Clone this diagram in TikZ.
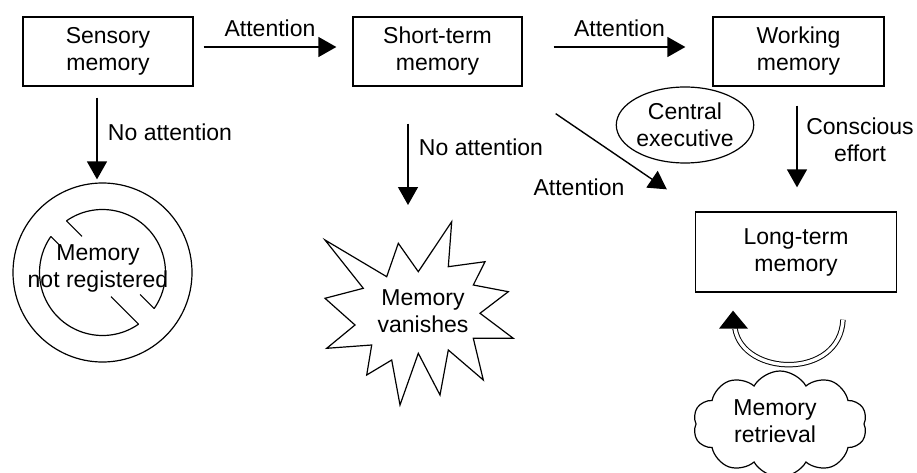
\documentclass[tikz,border=0pt]{standalone}
\usepackage{fontspec}
\setmainfont{Liberation Sans}
\usetikzlibrary{arrows.meta,shapes.geometric,shapes.symbols,calc}
\begin{document}
\begin{tikzpicture}[x=1pt,y=-1pt,
  every node/.style={font=\fontsize{23}{27}\selectfont, align=center, inner sep=0pt},
  box/.style={draw, line width=1.3pt, minimum height=69pt},
  arr/.style={line width=1.4pt, -{Triangle[length=18pt,width=20pt]}},
  thin/.style={line width=1.2pt}
]
\useasboundingbox (0,0) rectangle (917,473);

% boxes
\node[box, minimum width=170pt] (sens) at (108,51.5) {Sensory\\memory};
\node[box, minimum width=169pt] (stm) at (437.5,51.5) {Short-term\\memory};
\node[box, minimum width=171pt] (wm) at (798.5,51.5) {Working\\memory};
\node[box, minimum width=201pt, minimum height=80pt] (ltm) at (796,252) {Long-term\\memory};
\node[draw, ellipse, thin, minimum width=134pt, minimum height=76pt] (ce) at (685,125) {Central\\executive};

% no-entry sign
\node[draw, circle, thin, minimum size=179pt] (nr) at (102.5,272.5) {};
\node (nrt) at (98,268) {Memory\\not registered};
\draw[thin] ($(nr.center)+(-124.9:63)$) arc[start angle=-124.9, end angle=34.9, radius=63];
\draw[thin] ($(nr.center)+(55.1:63)$) arc[start angle=55.1, end angle=214.9, radius=63];
\draw[thin] ($(nr.center)+(-124.9:63)$) -- ++(15.6,15.6);
\draw[thin] ($(nr.center)+(34.9:63)$) -- ++(-14,-14);
\draw[thin] ($(nr.center)+(55.1:63)$) -- ++(-27.6,-27.6);
\draw[thin] ($(nr.center)+(214.9:63)$) -- ++(10,10);

% starburst
\node (burst) at (423,311) {Memory\\vanishes};
\draw[thin, line join=miter] (325,240) -- (386.7,276.7) -- (398.3,243.3) -- (418.3,271.7) -- (451.7,221.7) -- (448.3,266.7) -- (485,261.7) -- (473.3,285) -- (508.3,291.7) -- (480,313.3) -- (513.3,338.3) -- (473.3,338.3) -- (483.3,380) -- (448.3,350) -- (440,395) -- (418.3,353.3) -- (400,405) -- (391.7,360) -- (366.7,375) -- (371.7,345) -- (326.7,348.3) -- (355,325) -- (325,298.3) -- (363.3,288.3) -- cycle;

% cloud
\node[draw, cloud, thin, cloud puffs=10, cloud puff arc=120, aspect=1.8, minimum width=174pt, minimum height=106pt] (cloud) at (780,424) {};
\node (cloudt) at (775,421) {Memory\\retrieval};

% arrows
\draw[arr] ($(sens.east)+(10,-4.5)$) -- ($(stm.west)+(-16,-4.5)$)
  node[midway, above=10pt] {Attention};
\draw[arr] ($(stm.east)+(31,-4.5)$) -- ($(wm.west)+(-27,-4.5)$)
  node[midway, above=10pt] {Attention};
\draw[arr] ($(sens.south)+(-11,11)$) -- ($(nr.north)+(-5.5,-3)$);
\node (na1) at (170,132) {No attention};
\draw[arr] ($(stm.south)+(-29.5,37)$) -- ($(burst.center)+(-15,-106)$);
\node (na2) at (481,147) {No attention};
\draw[arr] ($(stm.south east)+(33,27)$) -- ($(ltm.north west)+(-28,-22)$);
\node (att3) at (579,187) {Attention};
\draw[arr] ($(wm.south)+(-1.5,19)$) -- ($(ltm.north)+(1,-24)$);
\node (ce2) at (860,140) {Conscious\\effort};

% retrieval loop
\coordinate (lr) at ($(ltm.south)+(47,27)$);
\coordinate (ll) at ($(ltm.south)+(-61,36)$);
\draw[line width=1pt, double, double distance=3.4pt] (lr) .. controls ($(lr)+(-3,60)$) and ($(ll)+(8,48)$) .. (ll);
\fill ($(ll)+(-16,0)$) -- ($(ll)+(13,0)$) -- ($(ll)+(-2,-18)$) -- cycle;
\end{tikzpicture}
\end{document}
